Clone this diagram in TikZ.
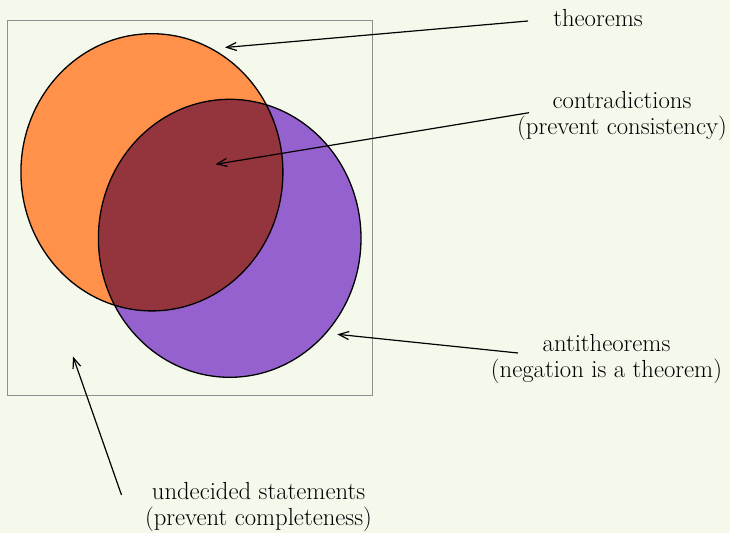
\documentclass[tikz,border=0pt]{standalone}
\usetikzlibrary{arrows.meta}
\definecolor{bgc}{HTML}{F5F9EC}
\definecolor{orng}{HTML}{FF914B}
\definecolor{purp}{HTML}{9461CE}
\definecolor{dred}{HTML}{94353D}
\definecolor{boxg}{HTML}{909090}
\tikzset{
  lbl/.style={align=center, inner sep=0pt, font=\fontsize{24.7}{26.8}\selectfont},
  pointer/.style={line width=1.2pt, -{Straight Barb[length=10pt,width=8pt,line width=1.2pt]}},
  outline/.style={draw=black, line width=1.3pt}
}
\begin{document}
\begin{tikzpicture}[x=1pt,y=-1pt]
\useasboundingbox[fill=bgc] (0,0) rectangle (730,533);
% universe box
\node[draw=boxg, line width=1.4pt, minimum width=365pt, minimum height=375pt, inner sep=0pt, anchor=north west] (univ) at (7,20) {};
% fills
\fill[orng] (151.9,172.3) ellipse [x radius=131, y radius=138.6];
\fill[purp] (229.7,238.3) ellipse [x radius=131.3, y radius=139];
\begin{scope}
  \clip (151.9,172.3) ellipse [x radius=131, y radius=138.6];
  \fill[dred] (229.7,238.3) ellipse [x radius=131.3, y radius=139];
\end{scope}
\draw[outline] (151.9,172.3) ellipse [x radius=131, y radius=138.6];
\draw[outline] (229.7,238.3) ellipse [x radius=131.3, y radius=139];
% labels
\node[lbl] (thm) at (598,18) {theorems};
\node[lbl] (con) at (622,116) {contradictions\\(prevent consistency)};
\node[lbl] (anti) at (606.5,359) {antitheorems\\(negation is a theorem)};
\node[lbl] (und) at (258.5,507) {undecided statements\\(prevent completeness)};
% targets
\coordinate (thmT) at (225,47.5);
\coordinate (conT) at (215.5,164.3);
\coordinate (antiT) at (337.3,334.3);
\coordinate (undT) at (73,356.5);
\coordinate (thmS) at (528,21);
\coordinate (conS) at (529,112.7);
\coordinate (antiS) at (518,353);
\coordinate (undS) at (121.5,495);
\draw[pointer] (thmS) -- (thmT);
\draw[pointer] (conS) -- (conT);
\draw[pointer] (antiS) -- (antiT);
\draw[pointer] (undS) -- (undT);
\end{tikzpicture}
\end{document}
